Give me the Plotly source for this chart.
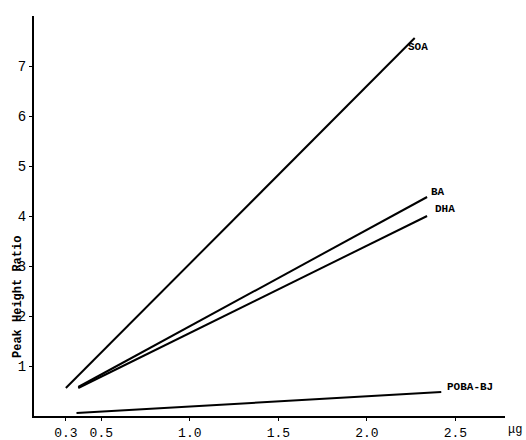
import plotly.graph_objects as go

series_names = ["SOA", "BA", "DHA", "POBA-BJ"]
x_start = [0.30, 0.37, 0.37, 0.36]
y_start = [0.56, 0.58, 0.56, 0.06]
x_end = [2.27, 2.34, 2.34, 2.42]
y_end = [7.56, 4.38, 4.00, 0.48]
label_x = [2.29, 2.40, 2.44, 2.58]
label_y = [7.38, 4.48, 4.14, 0.58]

x_tickvals = [0.3, 0.5, 1.0, 1.5, 2.0, 2.5]
x_ticktext = ["0.3", "0.5", "1.0", "1.5", "2.0", "2.5"]
y_tickvals = [1, 2, 3, 4, 5, 6, 7]

font_fam = "Liberation Mono"

fig = go.Figure()
for i, name in enumerate(series_names):
    fig.add_trace(go.Scatter(
        x=[x_start[i], x_end[i]], y=[y_start[i], y_end[i]],
        mode="lines", line=dict(color="black", width=2), name=name,
        showlegend=False, hoverinfo="skip"))
    fig.add_annotation(x=label_x[i], y=label_y[i], text="<b>" + name + "</b>", showarrow=False,
                       xanchor="center", yanchor="middle",
                       font=dict(family=font_fam, size=11, color="black"))

fig.add_annotation(xref="paper", yref="paper", x=(18 - 34) / 471, y=(416 - 297) / 400,
                   xanchor="center", yanchor="middle",
                   text="<b>Peak Height Ratio</b>", textangle=-90, showarrow=False,
                   font=dict(family=font_fam, size=12, color="black"))
fig.add_annotation(xref="paper", yref="paper", x=(515 - 34) / 471, y=(416 - 430) / 400,
                   xanchor="center", yanchor="middle",
                   text="μg", showarrow=False,
                   font=dict(family=font_fam, size=12, color="black"))

fig.update_xaxes(range=[0.12, 2.78], tickvals=x_tickvals, ticktext=x_ticktext,
                 showline=True, linecolor="black", linewidth=2, ticks="outside",
                 ticklen=3, tickcolor="black", showgrid=False, zeroline=False,
                 automargin=False,
                 tickfont=dict(family=font_fam, size=13, color="black"))
fig.update_yaxes(range=[0, 8], tickvals=y_tickvals,
                 showline=True, linecolor="black", linewidth=2, ticks="outside",
                 ticklen=3, tickcolor="black", showgrid=False, zeroline=False,
                 automargin=False, ticklabelstandoff=0,
                 tickfont=dict(family=font_fam, size=14, color="black"))

fig.update_layout(width=526, height=440, margin=dict(l=34, r=21, t=16, b=24),
                  plot_bgcolor="white", paper_bgcolor="white")
fig.write_html("out.html", config={"displayModeBar": False},
               post_script="document.body.style.margin='0';")
